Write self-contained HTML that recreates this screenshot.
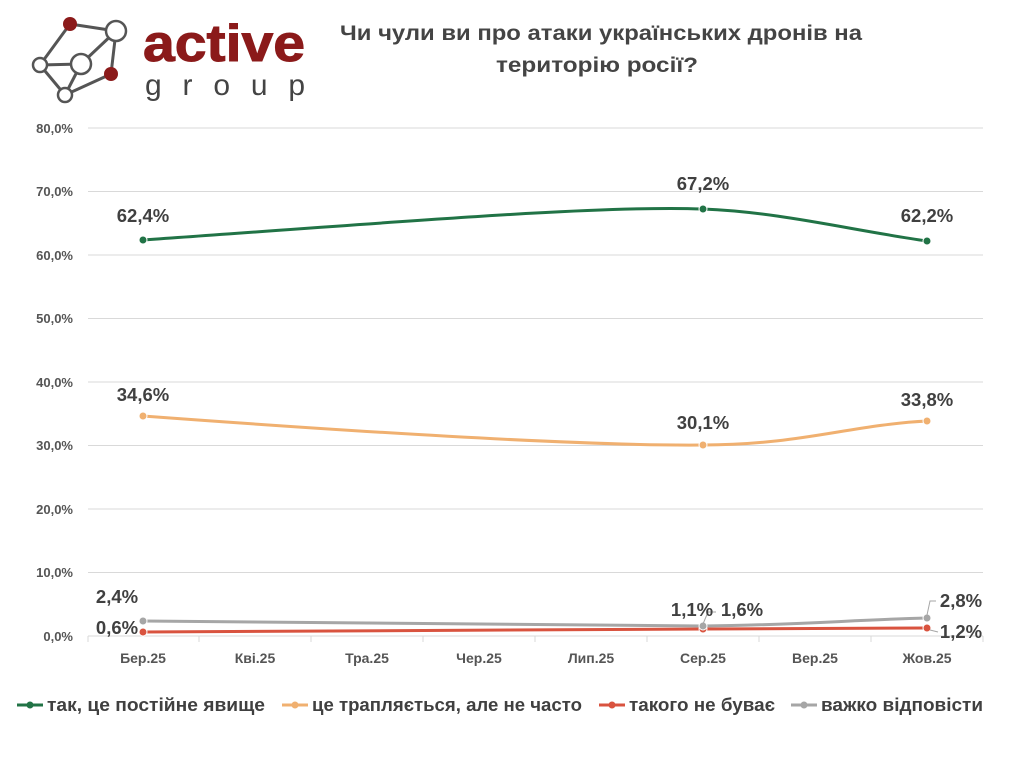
<!DOCTYPE html>
<html><head><meta charset="utf-8"><style>
body{margin:0;background:#fff;}
text{font-family:"Liberation Sans",sans-serif;}
</style></head><body>
<svg width="1024" height="768" viewBox="0 0 1024 768" xmlns="http://www.w3.org/2000/svg">
<!-- logo -->
<g stroke="#555" stroke-width="3" fill="none">
<line x1="70" y1="24" x2="116" y2="31"/><line x1="70" y1="24" x2="40" y2="65"/>
<line x1="116" y1="31" x2="111" y2="74"/><line x1="116" y1="31" x2="81" y2="64"/>
<line x1="40" y1="65" x2="81" y2="64"/><line x1="40" y1="65" x2="65" y2="95"/>
<line x1="81" y1="64" x2="65" y2="95"/><line x1="65" y1="95" x2="111" y2="74"/>
</g>
<g stroke="#555" stroke-width="2.5" fill="#fff">
<circle cx="116" cy="31" r="10"/><circle cx="81" cy="64" r="10"/><circle cx="40" cy="65" r="7"/><circle cx="65" cy="95" r="7"/>
</g>
<circle cx="70" cy="24" r="7" fill="#8b1a1a"/><circle cx="111" cy="74" r="7" fill="#8b1a1a"/>
<text x="143" y="61" font-size="52" font-weight="bold" fill="#8b1a1a" stroke="#8b1a1a" stroke-width="1" textLength="162" lengthAdjust="spacingAndGlyphs">active</text>
<text x="145" y="95" font-size="30" fill="#444" textLength="160">group</text>
<!-- title -->
<text x="340" y="40" font-size="21" font-weight="bold" fill="#444" textLength="522" lengthAdjust="spacingAndGlyphs">Чи чули ви про атаки українських дронів на</text>
<text x="496" y="72" font-size="21" font-weight="bold" fill="#444" textLength="202" lengthAdjust="spacingAndGlyphs">територію росії?</text>
<!-- grid -->
<g stroke="#d9d9d9" stroke-width="1">
<line x1="88" y1="128" x2="983" y2="128"/><line x1="88" y1="191.5" x2="983" y2="191.5"/>
<line x1="88" y1="255" x2="983" y2="255"/><line x1="88" y1="318.5" x2="983" y2="318.5"/>
<line x1="88" y1="382" x2="983" y2="382"/><line x1="88" y1="445.5" x2="983" y2="445.5"/>
<line x1="88" y1="509" x2="983" y2="509"/><line x1="88" y1="572.5" x2="983" y2="572.5"/>
<line x1="88" y1="636" x2="983" y2="636"/>
<line x1="88" y1="636" x2="88" y2="642"/><line x1="199" y1="636" x2="199" y2="642"/><line x1="311" y1="636" x2="311" y2="642"/><line x1="423" y1="636" x2="423" y2="642"/><line x1="535" y1="636" x2="535" y2="642"/><line x1="647" y1="636" x2="647" y2="642"/><line x1="759" y1="636" x2="759" y2="642"/><line x1="871" y1="636" x2="871" y2="642"/><line x1="983" y1="636" x2="983" y2="642"/>
</g>
<g font-size="13" font-weight="bold" fill="#555" text-anchor="end">
<text x="73" y="133">80,0%</text><text x="73" y="196">70,0%</text><text x="73" y="260">60,0%</text><text x="73" y="323">50,0%</text><text x="73" y="387">40,0%</text><text x="73" y="450">30,0%</text><text x="73" y="514">20,0%</text><text x="73" y="577">10,0%</text><text x="73" y="641">0,0%</text>
</g>
<g font-size="14" font-weight="bold" fill="#555" text-anchor="middle">
<text x="143" y="663">Бер.25</text><text x="255" y="663">Кві.25</text><text x="367" y="663">Тра.25</text><text x="479" y="663">Чер.25</text><text x="591" y="663">Лип.25</text><text x="703" y="663">Сер.25</text><text x="815" y="663">Вер.25</text><text x="927" y="663">Жов.25</text>
</g>
<!-- series -->
<g fill="none" stroke-width="3">
<path d="M143,240 C400,222 600,205 703,209 C780,212 850,230 927,241" stroke="#217346"/>
<path d="M143,416 C400,435 600,446 703,445 C800,445 850,425 927,421" stroke="#f0b070"/>
<path d="M143,632 L703,629 L927,628" stroke="#d9533f"/>
<path d="M143,621 L703,626 C800,625 850,620 927,618" stroke="#a6a6a6"/>
</g>
<g stroke="#fff" stroke-width="1">
<circle cx="143" cy="240" r="4" fill="#217346"/><circle cx="703" cy="209" r="4" fill="#217346"/><circle cx="927" cy="241" r="4" fill="#217346"/>
<circle cx="143" cy="416" r="4" fill="#f0b070"/><circle cx="703" cy="445" r="4" fill="#f0b070"/><circle cx="927" cy="421" r="4" fill="#f0b070"/>
<circle cx="143" cy="632" r="4" fill="#d9533f"/><circle cx="703" cy="629" r="4" fill="#d9533f"/><circle cx="927" cy="628" r="4" fill="#d9533f"/>
<circle cx="143" cy="621" r="4" fill="#a6a6a6"/><circle cx="703" cy="626" r="4" fill="#a6a6a6"/><circle cx="927" cy="618" r="4" fill="#a6a6a6"/>
</g>
<g stroke="#a6a6a6" stroke-width="1" fill="none">
<polyline points="703,624 708,612 716,612"/><polyline points="927,615 930,601 936,601"/><polyline points="930,630 938,632"/>
</g>
<g font-size="18.5" font-weight="bold" fill="#404040" text-anchor="middle">
<text x="143" y="222">62,4%</text><text x="703" y="190">67,2%</text><text x="927" y="222">62,2%</text>
<text x="143" y="401">34,6%</text><text x="703" y="429">30,1%</text><text x="927" y="406">33,8%</text>
<text x="117" y="603">2,4%</text><text x="117" y="634">0,6%</text>
<text x="692" y="616">1,1%</text><text x="742" y="616">1,6%</text>
<text x="961" y="607">2,8%</text><text x="961" y="638">1,2%</text>
</g>
<!-- legend -->
<g stroke-width="3">
<line x1="17" y1="705" x2="43" y2="705" stroke="#217346"/><circle cx="30" cy="705" r="3.5" fill="#217346"/>
<line x1="282" y1="705" x2="308" y2="705" stroke="#f0b070"/><circle cx="295" cy="705" r="3.5" fill="#f0b070"/>
<line x1="599" y1="705" x2="625" y2="705" stroke="#d9533f"/><circle cx="612" cy="705" r="3.5" fill="#d9533f"/>
<line x1="791" y1="705" x2="817" y2="705" stroke="#a6a6a6"/><circle cx="804" cy="705" r="3.5" fill="#a6a6a6"/>
</g>
<g font-size="18" font-weight="bold" fill="#404040">
<text x="47" y="711" textLength="218" lengthAdjust="spacingAndGlyphs">так, це постійне явище</text>
<text x="312" y="711" textLength="270" lengthAdjust="spacingAndGlyphs">це трапляється, але не часто</text>
<text x="629" y="711" textLength="146" lengthAdjust="spacingAndGlyphs">такого не буває</text>
<text x="821" y="711" textLength="162" lengthAdjust="spacingAndGlyphs">важко відповісти</text>
</g>
</svg>
</body></html>
